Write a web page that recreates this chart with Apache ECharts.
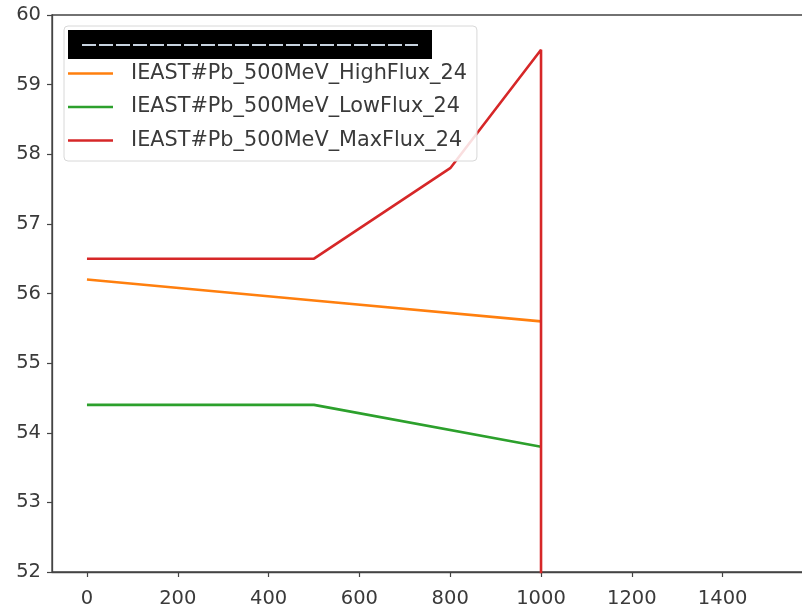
<!DOCTYPE html>
<html>
<head>
<meta charset="utf-8">
<script src="https://cdn.jsdelivr.net/npm/echarts@6/dist/echarts.min.js"></script>
<style>html,body{margin:0;padding:0;background:#fff}#c{width:802px;height:610px}</style>
</head>
<body>
<div id="c"></div>
<script>
// ---- data ----
const xTicks = [0, 200, 400, 600, 800, 1000, 1200, 1400];
const yTicks = [52, 53, 54, 55, 56, 57, 58, 59, 60];
const seriesNames = [
  'IEAST#Pb_500MeV_HighFlux_24',
  'IEAST#Pb_500MeV_LowFlux_24',
  'IEAST#Pb_500MeV_MaxFlux_24'
];
const highX = [0, 500, 1000];
const highY = [56.2, 55.9, 55.6];
const lowX = [0, 500, 1000];
const lowY = [54.4, 54.4, 53.8];
const maxX = [0, 500, 800, 1000, 1000];
const maxY = [56.5, 56.5, 57.8, 59.5, 0];
const colors = ['#ff7f0e', '#2ca02c', '#d62728'];

const zip = (xs, ys) => xs.map((x, i) => [x, ys[i]]);
const font = 'DejaVu Sans';
const chart = echarts.init(document.getElementById('c'), null, {renderer: 'canvas'});
chart.setOption({
  animation: false,
  backgroundColor: '#fff',
  grid: {left: 52, top: 15, bottom: 38, right: -16, outerBoundsMode: 'none', containLabel: false, show: true, borderColor: '#444', borderWidth: 1.3, backgroundColor: 'transparent'},
  xAxis: {
    type: 'value', min: -77, max: 1610,
    splitLine: {show: false},
    axisLine: {show: true, onZero: false, lineStyle: {color: '#444', width: 1.3}},
    axisTick: {show: true, length: 5, inside: false, customValues: xTicks, lineStyle: {color: '#444', width: 1.2}},
    axisLabel: {customValues: xTicks, formatter: v => String(v), fontFamily: font, fontSize: 19.5, color: '#3a3a3a', margin: 17, showMinLabel: true, showMaxLabel: true}
  },
  yAxis: {
    type: 'value', min: 52, max: 60, interval: 1,
    splitLine: {show: false},
    axisLine: {show: true, onZero: false, lineStyle: {color: '#444', width: 1.3}},
    axisTick: {show: true, length: 5, lineStyle: {color: '#444', width: 1.2}},
    axisLabel: {fontFamily: font, fontSize: 19.5, color: '#3a3a3a', margin: 11}
  },
  legend: {
    data: seriesNames,
    orient: 'vertical', left: 64, top: 26,
    padding: [37, 10, 10, 4],
    itemWidth: 45, itemHeight: 2.6, itemGap: 12.5,
    icon: 'rect',
    borderColor: '#d8d8d8', borderWidth: 1, borderRadius: 4,
    backgroundColor: 'rgba(255,255,255,0.85)',
    textStyle: {fontFamily: font, fontSize: 20.8, color: '#3a3a3a', lineHeight: 20, padding: [0, 0, 0, 13]},
    itemStyle: {borderWidth: 0}
  },
  graphic: [
    {type: 'rect', z: 100, shape: {x: 68, y: 30, width: 364, height: 29}, style: {fill: '#000'}},
    {type: 'line', z: 101, shape: {x1: 82, y1: 45, x2: 418, y2: 45}, style: {stroke: '#c8d4e0', lineWidth: 2, lineDash: [14, 3]}}
  ],
  series: [
    {name: seriesNames[0], type: 'line', data: zip(highX, highY), showSymbol: false, symbol: 'none', clip: true, color: colors[0], lineStyle: {width: 2.6, color: colors[0]}},
    {name: seriesNames[1], type: 'line', data: zip(lowX, lowY), showSymbol: false, symbol: 'none', clip: true, color: colors[1], lineStyle: {width: 2.6, color: colors[1]}},
    {name: seriesNames[2], type: 'line', data: zip(maxX, maxY), showSymbol: false, symbol: 'none', clip: true, color: colors[2], lineStyle: {width: 2.6, color: colors[2]}}
  ]
});
</script>
</body>
</html>
